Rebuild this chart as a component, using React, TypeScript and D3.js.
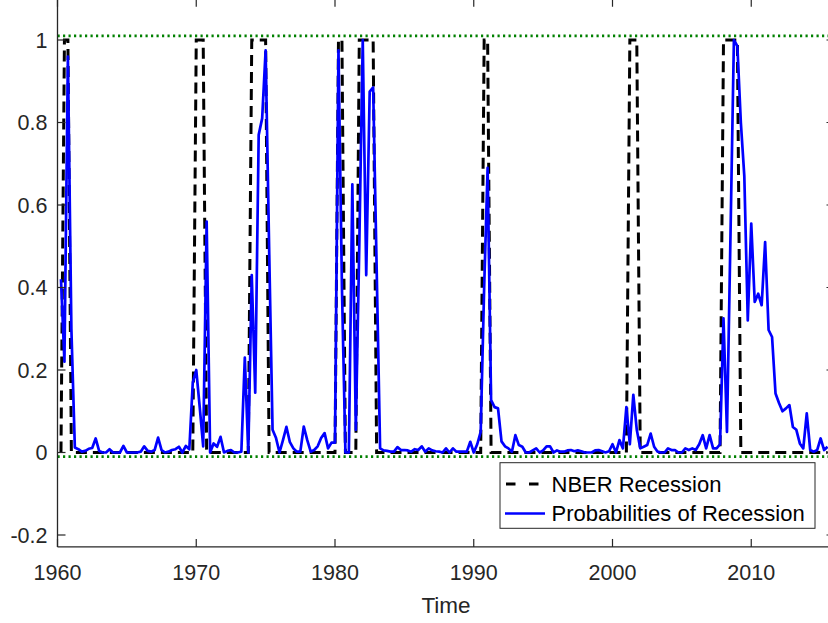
import React from 'react';
import * as d3 from 'd3';

// Quarterly series, first observation at 1960.25, step 0.25 year
const startTime = 1960.25;
const probabilities = [
  0.42, 0.22, 0.96,
  0.30, 0.012, 0.008, 0.002,
  0.004, 0.009, 0.011, 0.034,
  0.004, 0.0, 0.0, 0.008,
  0.0, 0.0, 0.0, 0.016,
  0.0, 0.0, 0.0, 0.0,
  0.002, 0.015, 0.004, 0.002,
  0.006, 0.036, 0.006, 0.0,
  0.002, 0.006, 0.008, 0.014,
  0.0, 0.016, 0.008, 0.17,
  0.20, 0.11, 0.015, 0.56,
  0.0, 0.022, 0.014, 0.038,
  0.0, 0.004, 0.006, 0.0,
  0.0, 0.002, 0.23, 0.0,
  0.43, 0.145, 0.77, 0.81,
  0.975, 0.5, 0.055, 0.035,
  0.0, 0.03, 0.062, 0.025,
  0.01, 0.002, 0.002, 0.063,
  0.03, 0.002, 0.006, 0.015,
  0.035, 0.047, 0.01, 0.024,
  0.024, 0.975, 0.4, 0.0,
  0.0, 0.65, 0.055, 0.5,
  1.0, 0.43, 0.875, 0.885,
  0.45, 0.01, 0.005, 0.004,
  0.002, 0.002, 0.013, 0.006,
  0.006, 0.005, 0.002, 0.008,
  0.006, 0.015, 0.002, 0.01,
  0.005, 0.003, 0.002, 0.0,
  0.01, 0.0, 0.01, 0.002,
  0.002, 0.002, 0.002, 0.026,
  0.0, 0.02, 0.05, 0.4,
  0.69, 0.127, 0.11, 0.107,
  0.027, 0.015, 0.01, 0.002,
  0.042, 0.018, 0.014, 0.0,
  0.0, 0.005, 0.01, 0.0,
  0.005, 0.015, 0.015, 0.0,
  0.005, 0.002, 0.002, 0.005,
  0.006, 0.003, 0.005, 0.003,
  0.0, 0.0, 0.0, 0.005,
  0.006, 0.003, 0.0, 0.003,
  0.02, 0.0, 0.03, 0.01,
  0.11, 0.02, 0.14, 0.055,
  0.01, 0.014, 0.018, 0.046,
  0.014, 0.002, 0.0, 0.0,
  0.01, 0.006, 0.006, 0.0,
  0.0, 0.01, 0.006, 0.01,
  0.006, 0.02, 0.042, 0.01,
  0.042, 0.01, 0.01, 0.02,
  0.325, 0.05, 0.52, 1.0,
  0.985, 0.8, 0.67, 0.32,
  0.555, 0.365, 0.385, 0.357,
  0.51, 0.297, 0.28, 0.143,
  0.12, 0.10, 0.107, 0.115,
  0.062, 0.055, 0.022, 0.01,
  0.095, 0.006, 0.002, 0.006,
  0.034, 0.006, 0.014,
];

// NBER recession quarters (first and last quarter flagged 1)
const recessionStarts = [1960.5, 1970.0, 1974.0, 1980.25, 1981.75, 1990.75, 2001.25, 2008.0];
const recessionEnds = [1960.75, 1970.5, 1975.0, 1980.5, 1982.75, 1991.0, 2001.75, 2009.0];

const xTicks = [1960, 1970, 1980, 1990, 2000, 2010];
const yTicks = [-0.2, 0, 0.2, 0.4, 0.6, 0.8, 1];
const yTickLabels = ['-0.2', '0', '0.2', '0.4', '0.6', '0.8', '1'];
const boundLines = [1.01, -0.01];
const legendLabels = ['NBER Recession', 'Probabilities of Recession'];
const xLabel = 'Time';

const xLim = [1960, 2016];
const yLim = [-0.229, 1.1];

const W = 828;
const H = 623;
const FONT = '"Liberation Sans", Arial, Helvetica, sans-serif';
const AXIS_COLOR = '#262626';

export default function App() {
  const x = d3.scaleLinear().domain([1960, 2010]).range([57.5, 751.25]);
  const y = d3.scaleLinear().domain([0, 1]).range([452.5, 40]);

  const xl = x(xLim[0]);
  const xr = x(xLim[1]);
  const yb = y(yLim[0]);
  const yt = y(yLim[1]);

  const times = probabilities.map((_, i) => startTime + i * 0.25);
  const probData: [number, number][] = times.map((t, i) => [t, probabilities[i]]);
  const nberData: [number, number][] = times.map((t) => {
    const inRec = recessionStarts.some((s, k) => t >= s - 1e-9 && t <= recessionEnds[k] + 1e-9);
    return [t, inRec ? 1 : 0];
  });

  const line = d3
    .line<[number, number]>()
    .x((d) => x(d[0]))
    .y((d) => y(d[1]));

  const tickLen = 8;

  return (
    <svg
      width={W}
      height={H}
      style={{ position: 'absolute', left: 0, top: 0, background: '#ffffff' }}
      fontFamily={FONT}
    >
      <rect x={0} y={0} width={W} height={H} fill="#ffffff" />
      {/* NBER recession dashed */}
      <path
        d={line(nberData) || ''}
        fill="none"
        stroke="#000000"
        strokeWidth={3}
        strokeDasharray="11 6"
        strokeLinejoin="miter"
      />
      {/* Probabilities */}
      <path
        d={line(probData) || ''}
        fill="none"
        stroke="#0000ff"
        strokeWidth={2.7}
        strokeLinejoin="round"
      />
      {/* Green dotted bounds */}
      {boundLines.map((v, i) => (
        <line
          key={'b' + i}
          x1={xl}
          x2={xr}
          y1={y(v)}
          y2={y(v)}
          stroke="#008000"
          strokeWidth={2.6}
          strokeDasharray="2.2 3.3"
        />
      ))}
      {/* Axes box */}
      <line x1={xl} x2={xl} y1={yt} y2={yb} stroke={AXIS_COLOR} strokeWidth={1.3} />
      <line x1={xl} x2={xr} y1={yb} y2={yb} stroke={AXIS_COLOR} strokeWidth={1.3} />
      <line x1={xr} x2={xr} y1={yt} y2={yb} stroke={AXIS_COLOR} strokeWidth={1.3} />
      <line x1={xl} x2={xr} y1={yt} y2={yt} stroke={AXIS_COLOR} strokeWidth={1.3} />
      {/* Y ticks */}
      {yTicks.map((v, i) => (
        <g key={'yt' + i}>
          <line x1={xl} x2={xl + tickLen} y1={y(v)} y2={y(v)} stroke={AXIS_COLOR} strokeWidth={1.2} />
          <line x1={xr - tickLen} x2={xr} y1={y(v)} y2={y(v)} stroke={AXIS_COLOR} strokeWidth={1.2} />
          <text
            x={xl - 10}
            y={y(v) + 7.5}
            textAnchor="end"
            fontSize={21.5}
            fill={AXIS_COLOR}
          >
            {yTickLabels[i]}
          </text>
        </g>
      ))}
      {/* X ticks */}
      {xTicks.map((v, i) => (
        <g key={'xt' + i}>
          <line x1={x(v)} x2={x(v)} y1={yb} y2={yb - tickLen} stroke={AXIS_COLOR} strokeWidth={1.2} />
          <line x1={x(v)} x2={x(v)} y1={yt} y2={yt + tickLen} stroke={AXIS_COLOR} strokeWidth={1.2} />
          <text x={x(v)} y={580} textAnchor="middle" fontSize={21.5} fill={AXIS_COLOR}>
            {String(v)}
          </text>
        </g>
      ))}
      <text x={(xl + xr) / 2} y={613} textAnchor="middle" fontSize={22.5} fill={AXIS_COLOR}>
        {xLabel}
      </text>
      {/* Legend */}
      <g>
        <rect x={500} y={462.7} width={315} height={65.6} fill="#ffffff" stroke="#262626" strokeWidth={1} />
        <line
          x1={506}
          x2={540}
          y1={484}
          y2={484}
          stroke="#000000"
          strokeWidth={3}
          strokeDasharray="9.5 13.5"
        />
        <text x={551.5} y={491.5} fontSize={22} fill="#000000">
          {legendLabels[0]}
        </text>
        <line x1={505} x2={545} y1={513.5} y2={513.5} stroke="#0000ff" strokeWidth={2.7} />
        <text x={551.5} y={521} fontSize={22} fill="#000000">
          {legendLabels[1]}
        </text>
      </g>
    </svg>
  );
}
